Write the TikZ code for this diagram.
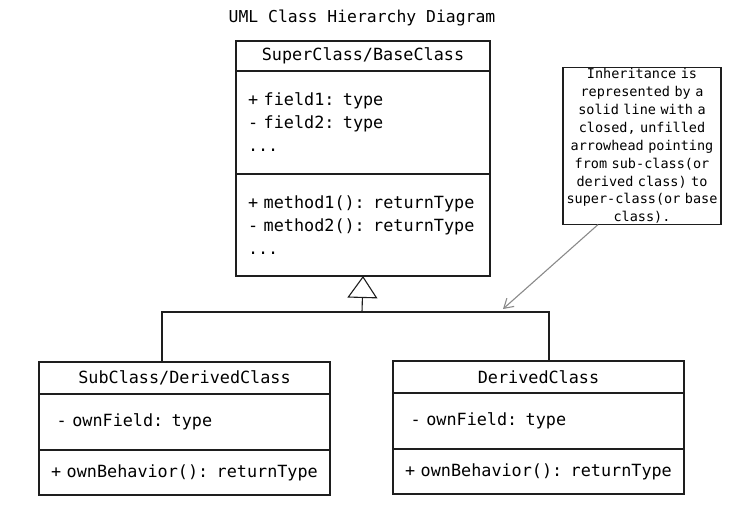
\documentclass[tikz,border=0pt]{standalone}
\usepackage{xcolor}
\usepackage{fontspec}
\newfontfamily\umlfont{DejaVu Sans Mono}[WordSpace={1,0,0}]
\usepackage{tikz}
\usetikzlibrary{positioning,arrows.meta}
\definecolor{ink}{HTML}{1E1E1E}
\definecolor{notegray}{HTML}{8A8A8A}

\tikzset{
  classpart/.style={draw=ink, line width=1.1pt, outer sep=0pt, inner xsep=12pt,
    text width=#1, align=left, font=\umlfont\fontsize{16.8}{23}\selectfont},
  classhead/.style={classpart=#1, align=center},
  notebox/.style={draw=ink, line width=1.1pt, outer sep=0pt, inner xsep=1pt, inner ysep=1pt,
    text width=156pt, align=center, font=\umlfont\fontsize{13.5}{17.9}\selectfont},
  link/.style={draw=ink, line width=1.1pt},
}

\begin{document}
\begin{tikzpicture}[x=1pt,y=1pt]
\useasboundingbox (0,0) rectangle (738,510);

% Title
\node[font=\umlfont\fontsize{16.4}{19}\selectfont] (title) at (362,492) {UML Class Hierarchy Diagram};

% Super class
\node[classhead=230pt, minimum height=30pt] (superhead) at (363,454) {SuperClass/BaseClass};
\node[classpart=230pt, minimum height=103pt, below=0pt of superhead] (superfields)
  {+ field1: type\\- field2: type\\...};
\node[classpart=230pt, minimum height=102pt, below=0pt of superfields] (supermethods)
  {+ method1(): returnType\\- method2(): returnType\\...};

% Sub classes
\node[classhead=267pt, minimum height=32pt] (subhead) at (184.5,132) {SubClass/DerivedClass};
\node[classpart=267pt, minimum height=56pt, below=0pt of subhead] (subfields) {\ - ownField: type};
\node[classpart=267pt, minimum height=45pt, below=0pt of subfields] (submethods) {+ ownBehavior(): returnType};

\node[classhead=267pt, minimum height=32pt] (derivedhead) at (538.5,133) {DerivedClass};
\node[classpart=267pt, minimum height=56pt, below=0pt of derivedhead] (derivedfields) {\ - ownField: type};
\node[classpart=267pt, minimum height=45pt, below=0pt of derivedfields] (derivedmethods) {+ ownBehavior(): returnType};

% Note
\node[notebox] (note) at (642,364)
  {Inheritance is\\represented by a\\solid line with a\\closed, unfilled\\arrowhead pointing\\from sub-class(or\\derived class) to\\super-class(or base\\class).};

% Inheritance lines
\coordinate (junction) at (362,198);
\coordinate (subtop) at (162,148);
\coordinate (derivedtop) at (549,149);
\draw[link] (subtop) |- (junction) -| (derivedtop);
\draw[link, -{Triangle[open, length=22pt, width=30pt, line width=1.1pt]}] (junction) -- (supermethods.south);

% Note pointer
\coordinate (notetip) at (503,201);
\draw[notegray, line width=1.1pt, -{Straight Barb[length=9pt, width=11pt]}] ([xshift=35pt]note.south west) -- (notetip);
\end{tikzpicture}
\end{document}
